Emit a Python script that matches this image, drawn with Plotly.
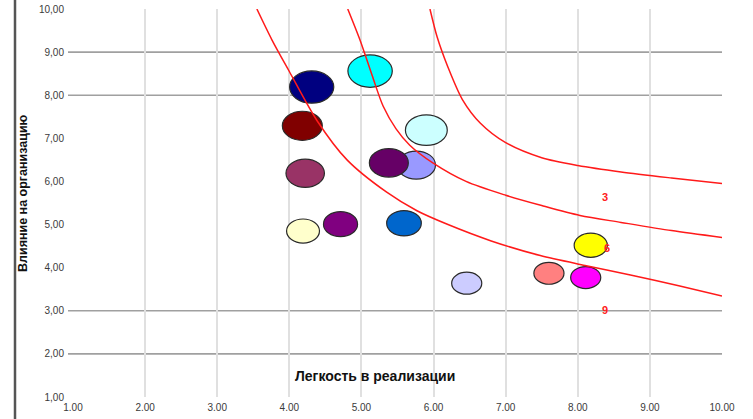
import math
import plotly.graph_objects as go

# Project portfolio: ease of implementation vs. impact on the organisation
ease = [4.31, 5.12, 4.18, 5.90, 5.76, 5.38, 4.22, 4.19, 4.71, 5.59, 6.46, 7.60, 8.11, 8.18]
impact = [8.19, 8.56, 7.29, 7.19, 6.38, 6.43, 6.19, 4.85, 5.01, 5.03, 3.64, 3.87, 3.77, 4.52]
weight = [9.9, 10.0, 8.1, 8.9, 7.5, 7.7, 7.5, 5.5, 5.9, 6.1, 4.6, 4.6, 4.6, 5.6]
colors = ["#000080", "#00ffff", "#800000", "#ccffff", "#9999ff", "#660066", "#993366",
          "#ffffcc", "#800080", "#0066cc", "#ccccff", "#ff8080", "#ff00ff", "#ffff00"]

# Iso-score boundary curves
curve_a_x = [5.95, 6.05, 6.20, 6.40, 6.65, 7.00, 7.50, 8.00, 8.60, 9.30, 10.0]
curve_a_y = [10.0, 9.35, 8.65, 7.90, 7.35, 6.90, 6.55, 6.37, 6.22, 6.08, 5.95]
curve_b_x = [4.81, 4.98, 5.15, 5.30, 5.48, 5.67, 5.99, 6.45, 7.00, 7.50, 8.03, 8.60, 9.30, 10.0]
curve_b_y = [10.0, 9.28, 8.45, 7.75, 7.22, 6.84, 6.43, 6.00, 5.68, 5.44, 5.21, 5.05, 4.86, 4.70]
curve_c_x = [3.55, 3.76, 4.00, 4.38, 4.80, 5.35, 5.77, 6.20, 6.80, 7.48, 8.10, 8.73, 9.40, 10.0]
curve_c_y = [10.0, 9.28, 8.55, 7.42, 6.50, 5.75, 5.32, 5.00, 4.62, 4.28, 4.05, 3.83, 3.58, 3.34]

zone_labels = ["3", "6", "9"]
zone_x = [8.38, 8.40, 8.38]
zone_y = [5.64, 4.45, 3.02]

x_ticks = [1, 2, 3, 4, 5, 6, 7, 8, 9, 10]
x_ticktext = ["1.00", "2.00", "3.00", "4.00", "5.00", "6.00", "7.00", "8.00", "9.00", "10.00"]
y_ticks = [1, 2, 3, 4, 5, 6, 7, 8, 9, 10]
y_ticktext = ["1,00", "2,00", "3,00", "4,00", "5,00", "6,00", "7,00", "8,00", "9,00", "10,00"]
hgrid_levels = [2, 3, 8, 9]

W, H = 753, 419
MR = 31
PW = W - MR                      # paper width in px
PLOT_L, PLOT_T, PLOT_B = 73, 9, 397   # plot area edges in px
FRAME_X = 15                     # left frame line position in px
X_RANGE = (1, 10)
Y_RANGE = (1, 10)
plot_w = PW - PLOT_L
plot_h = PLOT_B - PLOT_T
px_per_x = plot_w / (X_RANGE[1] - X_RANGE[0])
px_per_y = plot_h / (Y_RANGE[1] - Y_RANGE[0])


def paper_x(px):
    return px / PW


def paper_y(py):
    return (H - py) / H


D_MAX = 32.4      # bubble height in px for the largest weight
ASPECT = 1.37     # bubbles are drawn as wide ellipses
w_max = max(weight)

fig = go.Figure()

shapes = []
# bubbles as ellipses in data coordinates (area proportional to weight)
for x, y, w, c in zip(ease, impact, weight, colors):
    d = D_MAX * math.sqrt(w / w_max)
    rx = d * ASPECT / 2 / px_per_x
    ry = d / 2 / px_per_y
    shapes.append(dict(type="circle", xref="x", yref="y",
                       x0=x - rx, x1=x + rx, y0=y - ry, y1=y + ry,
                       fillcolor=c, line=dict(color="#2a2a2a", width=1.2),
                       layer="between"))

# selected horizontal reference lines
for lv in hgrid_levels:
    shapes.append(dict(type="line", xref="paper", yref="y",
                       x0=paper_x(PLOT_L - 5), x1=1, y0=lv, y1=lv,
                       line=dict(color="#a0a0a0", width=1.6), layer="below"))

# outer frame line on the left
shapes.append(dict(type="line", xref="paper", yref="paper",
                   x0=paper_x(FRAME_X), x1=paper_x(FRAME_X), y0=0, y1=1,
                   line=dict(color="#555555", width=2.5), layer="above"))

fig.add_trace(go.Scatter(x=ease, y=impact, mode="markers",
                         marker=dict(size=10, color=colors, opacity=0),
                         customdata=weight,
                         hovertemplate="%{x:.2f}; %{y:.2f}<br>%{customdata}<extra></extra>",
                         showlegend=False))

for cx, cy in [(curve_a_x, curve_a_y), (curve_b_x, curve_b_y), (curve_c_x, curve_c_y)]:
    fig.add_trace(go.Scatter(x=cx, y=cy, mode="lines",
                             line=dict(color="#ff1a1a", width=1.5, shape="spline", smoothing=0.8),
                             hoverinfo="skip", showlegend=False))

annotations = []
for t, x, y in zip(zone_labels, zone_x, zone_y):
    annotations.append(dict(text="<b>" + t + "</b>", x=x, y=y, xref="x", yref="y", showarrow=False,
                            font=dict(family="Arial, Liberation Sans", size=11, color="#ff2020"),
                            xanchor="center", yanchor="middle"))

annotations.append(dict(text="<b>Легкость в реализации</b>", xref="paper", yref="paper",
                        x=paper_x(375), y=paper_y(376), showarrow=False,
                        font=dict(family="Arial, Liberation Sans", size=14, color="#111111"),
                        xanchor="center", yanchor="middle"))
annotations.append(dict(text="<b>Влияние на организацию</b>", xref="paper", yref="paper",
                        x=paper_x(23), y=paper_y(193), showarrow=False,
                        textangle=-90,
                        font=dict(family="Arial, Liberation Sans", size=12.5, color="#111111"),
                        xanchor="center", yanchor="middle"))

fig.update_layout(
    width=W, height=H,
    margin=dict(l=0, r=MR, t=0, b=0, pad=0, autoexpand=False),
    paper_bgcolor="white", plot_bgcolor="white",
    shapes=shapes, annotations=annotations,
    showlegend=False,
    font=dict(family="Arial, Liberation Sans"),
    xaxis=dict(domain=[paper_x(PLOT_L), 1],
               range=list(X_RANGE), tickvals=x_ticks, ticktext=x_ticktext,
               showgrid=True, gridcolor="#e0e0e0", gridwidth=1.5,
               zeroline=False, showline=False, ticks="",
               ticklabelstandoff=3, automargin=False,
               tickfont=dict(size=10, color="#3a3a3a")),
    yaxis=dict(domain=[paper_y(PLOT_B), paper_y(PLOT_T)],
               range=list(Y_RANGE), tickvals=y_ticks, ticktext=y_ticktext,
               showgrid=False, zeroline=False, showline=False, ticks="",
               ticklabelstandoff=8, automargin=False,
               tickfont=dict(size=10, color="#3a3a3a")),
)

fig.write_html("out.html")
